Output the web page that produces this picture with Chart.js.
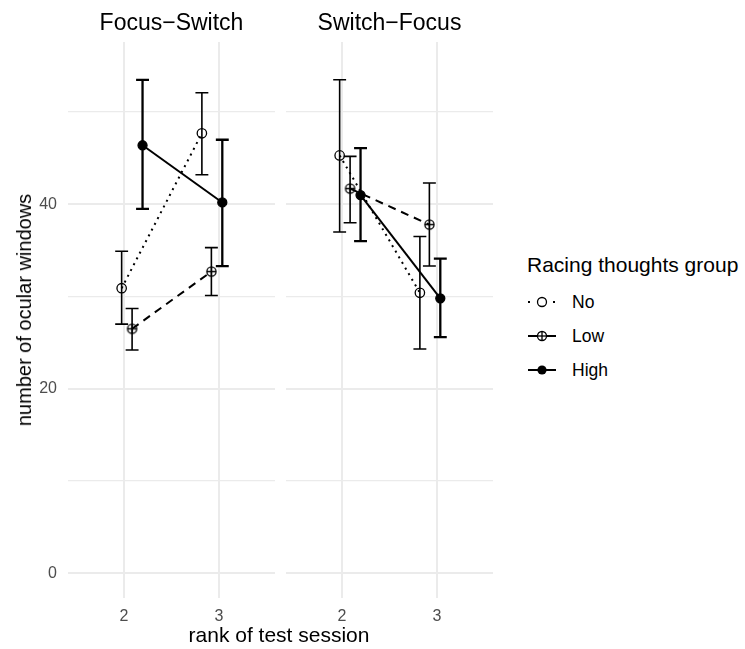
<!DOCTYPE html>
<html>
<head>
<meta charset="utf-8">
<script src="https://cdn.jsdelivr.net/npm/chart.js@4.4.1/dist/chart.umd.min.js"></script>
<style>
  body { margin: 0; background: #fff; width: 745px; height: 649px; position: relative; overflow: hidden;
         font-family: "Liberation Sans", Arial, sans-serif; }
  canvas { position: absolute; top: 0; }
  .txt { position: absolute; white-space: nowrap; color: #000; }
  .key { position: absolute; }
</style>
</head>
<body>
<canvas id="left" width="276" height="649" style="left:0"></canvas>
<canvas id="right" width="207" height="649" style="left:286px"></canvas>

<div class="txt" style="left:24px;top:310px;font-size:20px;line-height:20px;transform:translate(-50%,-50%) rotate(-90deg)">number of ocular windows</div>
<div class="txt" style="left:0;width:558px;top:624px;font-size:21px;line-height:21px;text-align:center">rank of test session</div>

<div class="txt" style="left:527px;top:254px;font-size:21px;line-height:21px">Racing thoughts group</div>
<svg class="key" style="left:526px;top:292px" width="32" height="20">
  <rect x="2" y="9" width="2" height="2" fill="#000"/>
  <rect x="27" y="9" width="2" height="2" fill="#000"/>
  <circle cx="16" cy="10" r="4.5" fill="none" stroke="#000" stroke-width="1.3"/>
</svg>
<div class="txt" style="left:572px;top:294px;font-size:17.5px;line-height:17.5px">No</div>
<svg class="key" style="left:526px;top:326px" width="32" height="20">
  <line x1="2" y1="10" x2="30" y2="10" stroke="#000" stroke-width="2"/>
  <circle cx="16" cy="10" r="4.5" fill="#fff" stroke="#000" stroke-width="1.3"/>
  <line x1="11.5" y1="10" x2="20.5" y2="10" stroke="#000" stroke-width="1.3"/>
  <line x1="16" y1="5.5" x2="16" y2="14.5" stroke="#000" stroke-width="1.3"/>
</svg>
<div class="txt" style="left:572px;top:328px;font-size:17.5px;line-height:17.5px">Low</div>
<svg class="key" style="left:526px;top:360px" width="32" height="20">
  <line x1="2" y1="10" x2="30" y2="10" stroke="#000" stroke-width="2"/>
  <circle cx="16" cy="10" r="4.6" fill="#000"/>
</svg>
<div class="txt" style="left:572px;top:362px;font-size:17.5px;line-height:17.5px">High</div>

<script>
// test sessions (x categories) and groups
const sessions = [2, 3];
const groups = ['No', 'Low', 'High'];
const panelTitles = ['Focus\u2212Switch', 'Switch\u2212Focus'];

// Focus-Switch: rows = No, Low, High; columns = session 2, 3
const fsMean = [[30.9, 47.7], [26.5, 32.7], [46.4, 40.2]];
const fsLower = [[27.0, 43.2], [24.2, 30.1], [39.5, 33.3]];
const fsUpper = [[34.9, 52.1], [28.7, 35.3], [53.5, 47.0]];

// Switch-Focus
const sfMean = [[45.3, 30.4], [41.7, 37.8], [41.0, 29.8]];
const sfLower = [[37.0, 24.3], [38.0, 33.3], [36.0, 25.6]];
const sfUpper = [[53.5, 36.5], [45.2, 42.3], [46.1, 34.1]];

const yTicks = [0, 20, 40];
const yMinor = [10, 30, 50];

// horizontal dodge of each group at each session (x units)
const dodge = [[-0.025, -0.18], [0.085, -0.08], [0.195, 0.035]];

function circlePlus(r, lw) {
  const s = Math.ceil(2 * r + lw + 2);
  const c = document.createElement('canvas');
  c.width = c.height = s;
  const g = c.getContext('2d');
  const m = s / 2;
  g.strokeStyle = '#000';
  g.lineWidth = lw;
  g.beginPath();
  g.arc(m, m, r, 0, Math.PI * 2);
  g.moveTo(m - r, m); g.lineTo(m + r, m);
  g.moveTo(m, m - r); g.lineTo(m, m + r);
  g.stroke();
  return c;
}

const styles = [
  { dash: [2, 4.5], point: 'circle', radius: 4.7, fill: 'rgba(0,0,0,0)', barWidth: 1.6 },
  { dash: [8, 6], point: circlePlus(4.6, 1.3), radius: 5, fill: '#fff', barWidth: 1.6 },
  { dash: [], point: 'circle', radius: 4.5, fill: '#000', barWidth: 2.3 }
];

const errorBars = {
  id: 'errorBars',
  beforeDatasetsDraw(chart) {
    const ctx = chart.ctx;
    const xs = chart.scales.x, ys = chart.scales.y;
    chart.data.datasets.forEach((ds, i) => {
      ds.data.forEach((p, j) => {
        const x = xs.getPixelForValue(p.x);
        const w = xs.getPixelForValue(p.x + 0.068) - x;
        const y1 = ys.getPixelForValue(ds.errLo[j]);
        const y2 = ys.getPixelForValue(ds.errHi[j]);
        ctx.save();
        ctx.strokeStyle = '#000';
        ctx.lineWidth = ds.barWidth;
        ctx.beginPath();
        ctx.moveTo(x, y1); ctx.lineTo(x, y2);
        ctx.moveTo(x - w, y1); ctx.lineTo(x + w, y1);
        ctx.moveTo(x - w, y2); ctx.lineTo(x + w, y2);
        ctx.stroke();
        ctx.restore();
      });
    });
  }
};

function makePanel(id, title, mean, lower, upper, showY) {
  const datasets = groups.map((g, i) => ({
    label: g,
    data: sessions.map((s, j) => ({ x: s + dodge[i][j], y: mean[i][j] })),
    errLo: lower[i],
    errHi: upper[i],
    barWidth: styles[i].barWidth,
    borderColor: '#000',
    borderWidth: 2,
    borderDash: styles[i].dash,
    pointStyle: styles[i].point,
    pointRadius: styles[i].radius,
    pointBorderWidth: 1.3,
    pointBackgroundColor: styles[i].fill,
    pointBorderColor: '#000',
    tension: 0
  }));

  return new Chart(document.getElementById(id), {
    type: 'line',
    data: { datasets },
    plugins: [errorBars],
    options: {
      responsive: false,
      animation: false,
      events: [],
      layout: { autoPadding: false, padding: { top: 0, right: showY ? 1 : 0, bottom: 0, left: 0 } },
      plugins: {
        legend: { display: false },
        tooltip: { enabled: false },
        title: {
          display: true,
          text: title,
          fullSize: false,
          color: '#000',
          font: { family: 'Liberation Sans', size: 23, weight: 'normal', lineHeight: 1 },
          padding: { top: 12, bottom: 7 }
        }
      },
      scales: {
        x: {
          type: 'linear',
          min: 1.41,
          max: 3.59,
          afterBuildTicks: (scale) => { scale.ticks = sessions.map(v => ({ value: v })); },
          afterFit: (scale) => {
            scale.height = 51;
            scale.paddingLeft = 0;
            scale.paddingRight = 0;
          },
          border: { display: false },
          grid: { color: '#EBEBEB', lineWidth: 2, drawTicks: false },
          ticks: {
            color: '#4D4D4D',
            padding: 9,
            font: { family: 'Liberation Sans', size: 16 }
          }
        },
        y: {
          min: -2.7,
          max: 57.6,
          afterBuildTicks: (scale) => {
            scale.ticks = yTicks.concat(yMinor).sort((a, b) => a - b).map(v => ({ value: v }));
          },
          afterFit: (scale) => {
            scale.width = showY ? 68 : 0;
            scale.paddingTop = 0;
            scale.paddingBottom = 0;
          },
          border: { display: false },
          grid: {
            color: '#EBEBEB',
            drawTicks: false,
            lineWidth: (c) => (c.tick && yTicks.includes(c.tick.value) ? 2 : 1.2)
          },
          ticks: {
            display: showY,
            color: '#4D4D4D',
            padding: 11,
            font: { family: 'Liberation Sans', size: 16 },
            callback: (v) => (yTicks.includes(v) ? v : '')
          }
        }
      }
    }
  });
}

makePanel('left', panelTitles[0], fsMean, fsLower, fsUpper, true);
makePanel('right', panelTitles[1], sfMean, sfLower, sfUpper, false);
</script>
</body>
</html>
